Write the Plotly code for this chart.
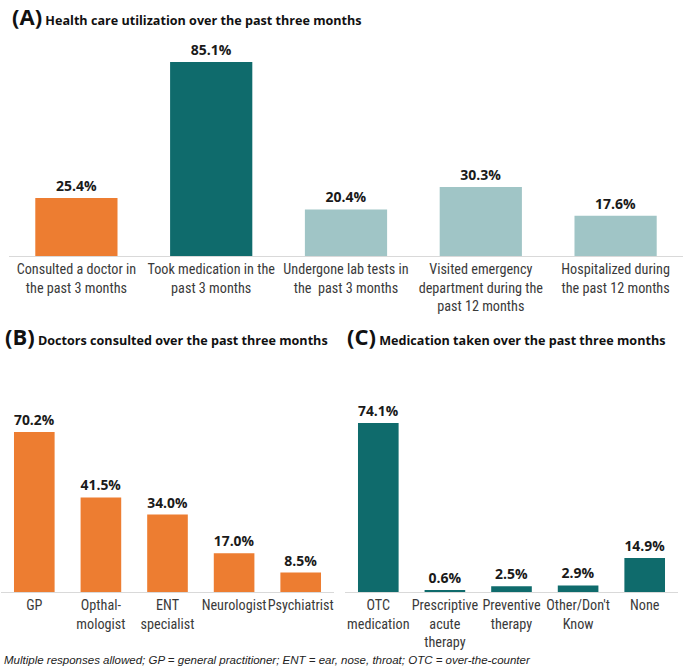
import plotly.graph_objects as go

# ---- data ----
cats_a = ["Consulted a doctor in<br>the past 3 months",
          "Took medication in the<br>past 3 months",
          "Undergone lab tests in<br>the  past 3 months",
          "Visited emergency<br>department during the<br>past 12 months",
          "Hospitalized during<br>the past 12 months"]
vals_a = [25.4, 85.1, 20.4, 30.3, 17.6]

cats_b = ["GP", "Opthal-<br>mologist", "ENT<br>specialist", "Neurologist", "Psychiatrist"]
vals_b = [70.2, 41.5, 34.0, 17.0, 8.5]

cats_c = ["OTC<br>medication", "Prescriptive<br>acute<br>therapy", "Preventive<br>therapy",
          "Other/Don't<br>Know", "None"]
vals_c = [74.1, 0.6, 2.5, 2.9, 14.9]

ORANGE = "#ED7D31"
TEAL = "#0F6B6C"
LTEAL = "#A0C5C6"
colors_a = [ORANGE, TEAL, LTEAL, LTEAL, LTEAL]

W, H = 685, 670
TICKFONT = dict(family="Liberation Sans Narrow, Arial Narrow, Roboto Condensed, Liberation Sans, sans-serif",
                size=14.2, color="#3a3a3a")
LABELFONT = dict(family="Open Sans, Noto Sans, sans-serif", size=14, color="#1a1a1a")

def xd(a, b):
    return [a / W, b / W]

def yd(bottom_px, top_px):
    return [(H - bottom_px) / H, (H - top_px) / H]

fig = go.Figure()

def add(cats, vals, colors, xa, ya):
    fig.add_trace(go.Bar(
        x=cats, y=vals, marker=dict(color=colors, line=dict(width=0)),
        text=vals, texttemplate="<b>%{y:.1f}%</b>", textposition="outside",
        textfont=LABELFONT, cliponaxis=False, xaxis=xa, yaxis=ya,
        showlegend=False, hoverinfo="skip"))

add(cats_a, vals_a, colors_a, "x", "y")
add(cats_b, vals_b, ORANGE, "x2", "y2")
add(cats_c, vals_c, TEAL, "x3", "y3")

common_x = dict(showgrid=False, zeroline=False, showline=True, linecolor="#D9D9D9",
                linewidth=1, ticks="", tickfont=TICKFONT, fixedrange=True, tickangle=0)
common_y = dict(range=[0, 100], visible=False, fixedrange=True)

fig.update_layout(
    width=W, height=H,
    margin=dict(l=0, r=0, t=0, b=0),
    paper_bgcolor="white", plot_bgcolor="white",
    bargap=0.39,
    xaxis=dict(domain=xd(9, 683), anchor="y", **common_x),
    yaxis=dict(domain=yd(256, 28), anchor="x", **common_y),
    xaxis2=dict(domain=xd(1, 334), anchor="y2", **common_x),
    yaxis2=dict(domain=yd(592, 364), anchor="x2", **common_y),
    xaxis3=dict(domain=xd(345, 678), anchor="y3", **common_x),
    yaxis3=dict(domain=yd(592, 364), anchor="x3", **common_y),
)

TFONT = dict(family="Open Sans, Noto Sans, sans-serif", size=12.6, color="#111111")

def title(txt, xpx, ypx):
    fig.add_annotation(
        text="<b><span style='font-size:22px'>" + txt[0] + "</span> " + txt[1] + "</b>",
        x=xpx / W, y=(H - ypx) / H, xref="paper", yref="paper",
        xanchor="left", yanchor="middle", showarrow=False, font=TFONT)

title(("(A)", "Health care utilization over the past three months"), 10, 16)
title(("(B)", "Doctors consulted over the past three months"), 3, 336)
title(("(C)", "Medication taken over the past three months"), 345, 336)

fig.add_annotation(
    text="<i>Multiple responses allowed; GP = general practitioner; ENT = ear, nose, throat; OTC = over-the-counter</i>",
    x=2 / W, y=(H - 660) / H, xref="paper", yref="paper", xanchor="left", yanchor="middle",
    showarrow=False,
    font=dict(family="Liberation Sans Narrow, Arial Narrow, Liberation Sans, sans-serif", size=11.5, color="#222222"))

fig.write_html("out.html", config={"displayModeBar": False},
               post_script="document.body.style.margin='0';")
